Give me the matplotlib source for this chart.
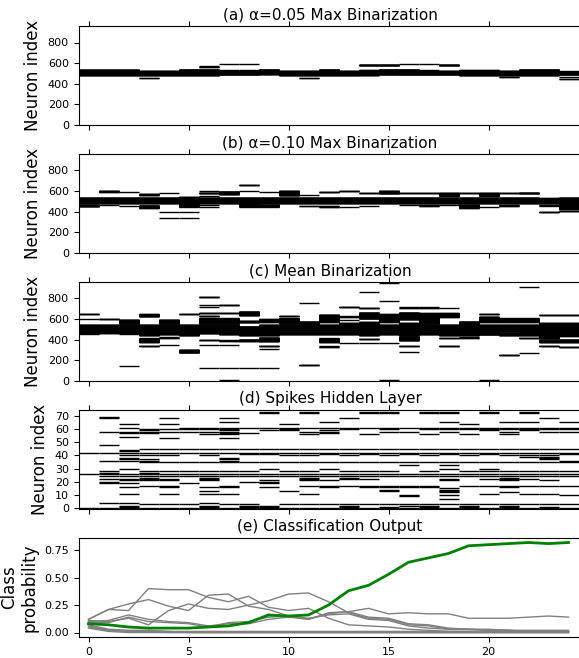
import matplotlib
matplotlib.use("Agg")
import matplotlib.pyplot as plt
import numpy as np

steps = np.arange(25)

# active input neurons per time step, as (first, last) index ranges
max005_ranges = [
    [(485, 535)], [(485, 535)], [(485, 535)],
    [(485, 522), (455, 456)], [(485, 522)],
    [(485, 538)], [(485, 538), (566, 568)],
    [(490, 514), (520, 520), (526, 526), (532, 532), (589, 589)],
    [(490, 514), (520, 520), (526, 526), (532, 532), (589, 589)],
    [(495, 538)], [(485, 522)], [(485, 522), (455, 456)],
    [(485, 538)], [(485, 522)],
    [(486, 496), (500, 520), (524, 530), (580, 586)],
    [(492, 520), (526, 538), (580, 586)],
    [(490, 516), (520, 538), (592, 592)],
    [(490, 516), (522, 522), (530, 530), (592, 592)],
    [(490, 498), (502, 522), (580, 586)],
    [(485, 530)], [(485, 530)], [(485, 522), (465, 466)],
    [(485, 538)], [(485, 538)],
    [(490, 500), (506, 506), (512, 512), (520, 520), (443, 443), (450, 450), (465, 465)],
]

max010_ranges = [
    [(482, 535), (455, 462)],
    [(485, 535), (466, 466), (595, 600)],
    [(485, 535), (456, 456), (590, 590)],
    [(485, 535), (440, 460), (565, 570)],
    [(485, 535), (577, 577), (393, 393), (344, 344)],
    [(450, 541), (393, 393), (344, 344)],
    [(485, 535), (466, 466), (443, 443), (557, 557), (578, 582), (600, 600)],
    [(485, 535), (572, 595)],
    [(485, 512), (520, 535), (450, 472), (600, 600), (655, 657)],
    [(485, 535), (450, 466), (590, 590)],
    [(485, 535), (562, 600)],
    [(485, 535), (459, 460), (567, 567)],
    [(485, 535), (449, 452), (588, 590)],
    [(485, 535), (449, 449), (598, 600)],
    [(485, 535), (459, 459), (584, 586)],
    [(485, 535), (580, 600)],
    [(485, 535), (466, 466), (584, 586)],
    [(485, 505), (515, 515), (525, 535), (459, 462), (584, 586)],
    [(485, 535), (466, 466), (557, 580)],
    [(485, 535), (440, 466), (584, 586)],
    [(485, 535), (443, 443), (557, 580)],
    [(485, 535), (459, 462), (584, 586)],
    [(485, 535), (580, 586)],
    [(485, 530), (460, 462), (400, 402)],
    [(430, 535), (410, 412)],
]

mean_ranges = [
    [(468, 495), (500, 543), (456, 456), (598, 598), (646, 648)],
    [(468, 543), (604, 606)],
    [(468, 500), (505, 543), (456, 456), (559, 591), (145, 145)],
    [(446, 495), (500, 543), (381, 413), (339, 341), (630, 646)],
    [(456, 543), (420, 422), (349, 349), (559, 591)],
    [(446, 543), (278, 300), (646, 648)],
    [(466, 543), (397, 399), (349, 349), (559, 607), (633, 635), (662, 664),
     (714, 714), (737, 737), (811, 813), (129, 129)],
    [(456, 500), (505, 543), (391, 393), (349, 349), (559, 607), (662, 664),
     (737, 739), (129, 129), (10, 10)],
    [(446, 528), (390, 400), (640, 672), (572, 580), (129, 129)],
    [(446, 543), (388, 420), (342, 344), (310, 310), (575, 598), (129, 129)],
    [(456, 543), (559, 607), (633, 635)],
    [(456, 543), (555, 575), (759, 759), (155, 157)],
    [(456, 543), (381, 413), (333, 335), (575, 600), (614, 640)],
    [(456, 500), (505, 560), (372, 372), (591, 591), (624, 626), (714, 716)],
    [(446, 570), (404, 406), (372, 372), (607, 662), (704, 706), (860, 860)],
    [(456, 543), (372, 372), (575, 646), (779, 779), (947, 947), (10, 10)],
    [(446, 560), (397, 430), (342, 344), (284, 284), (601, 662), (711, 713)],
    [(456, 543), (559, 656), (711, 713)],
    [(446, 500), (505, 543), (413, 415), (342, 344), (624, 656), (704, 704)],
    [(446, 575), (420, 422)],
    [(452, 543), (575, 620), (649, 651), (10, 10)],
    [(446, 470), (488, 543), (575, 607), (252, 254)],
    [(446, 543), (413, 415), (275, 275), (575, 607), (914, 914)],
    [(420, 560), (380, 400), (340, 342), (640, 642)],
    [(440, 560), (380, 400), (330, 332), (640, 642)],
]

hidden_always_on = [0, 26, 42]
hidden_spikes = [
    [],
    [69, 68, 58, 48, 36, 28, 27, 24, 22, 20, 19, 4],
    [64, 61, 58, 57, 54, 44, 43, 40, 38, 37, 36, 30, 24, 22, 21, 19, 16, 11, 4, 2, 1],
    [60, 59, 58, 57, 45, 40, 37, 36, 35, 28, 27, 24, 23, 22, 21, 17, 3],
    [68, 64, 60, 58, 53, 45, 40, 35, 28, 24, 22, 21, 17, 16, 11, 3],
    [61, 60, 58, 45, 35, 28, 24, 19, 3],
    [61, 60, 58, 56, 45, 40, 35, 28, 24, 23, 22, 21, 16, 13, 11, 4, 2, 1],
    [68, 65, 61, 60, 59, 58, 57, 56, 53, 45, 38, 37, 36, 35, 28, 24, 17, 16, 11, 3],
    [61, 57, 45, 41, 35, 28, 24, 20, 3, 2, 1],
    [73, 72, 61, 59, 45, 41, 35, 30, 24, 21, 20, 19, 16, 2, 1],
    [64, 61, 60, 59, 45, 40, 35, 28, 24, 13, 3],
    [73, 72, 61, 58, 56, 45, 40, 35, 28, 24, 23, 22, 21, 17, 11, 3],
    [65, 61, 59, 58, 57, 45, 41, 35, 30, 24, 21, 17, 16, 3],
    [68, 61, 60, 45, 40, 35, 28, 24, 23, 22, 17, 3, 2, 1],
    [73, 72, 61, 56, 45, 41, 35, 28, 24, 22, 17, 16, 3],
    [73, 72, 61, 60, 58, 45, 40, 35, 28, 24, 17, 16, 14, 13, 3, 1],
    [61, 58, 45, 41, 35, 33, 24, 17, 16, 10, 9, 3, 2],
    [73, 72, 61, 60, 56, 45, 40, 35, 28, 24, 17, 16, 3, 2, 1],
    [73, 72, 65, 61, 60, 58, 45, 41, 35, 33, 30, 24, 22, 21, 15, 14, 13, 12, 10, 7, 3],
    [64, 61, 60, 56, 45, 40, 35, 28, 24, 17, 3, 2, 1],
    [73, 72, 61, 60, 59, 45, 41, 35, 30, 28, 24, 22, 17, 11, 3],
    [65, 61, 60, 58, 56, 45, 40, 35, 28, 24, 23, 22, 21, 17, 16, 12, 3, 2, 1],
    [73, 72, 65, 61, 60, 59, 45, 40, 39, 35, 28, 24, 22, 17, 11, 3],
    [68, 61, 60, 58, 45, 40, 39, 38, 37, 35, 28, 24, 21, 17, 11, 3, 1],
    [65, 61, 60, 58, 45, 41, 36, 35, 28, 24, 17, 10, 3],
]

target_class = [0.08, 0.07, 0.05, 0.04, 0.04, 0.04, 0.05, 0.06, 0.09, 0.16, 0.15, 0.16,
                0.25, 0.38, 0.43, 0.53, 0.64, 0.68, 0.72, 0.79, 0.80, 0.81, 0.82, 0.81, 0.82]
other_classes = [
    [0.12, 0.21, 0.20, 0.40, 0.39, 0.39, 0.32, 0.28, 0.33, 0.23, 0.20, 0.22, 0.13,
     0.07, 0.06, 0.05, 0.03, 0.02, 0.01, 0.01, 0.01, 0.01, 0.01, 0.01, 0.01],
    [0.12, 0.21, 0.26, 0.30, 0.24, 0.20, 0.34, 0.35, 0.24, 0.21, 0.15, 0.12, 0.18,
     0.19, 0.14, 0.13, 0.08, 0.07, 0.04, 0.03, 0.02, 0.02, 0.01, 0.01, 0.01],
    [0.11, 0.10, 0.13, 0.07, 0.20, 0.26, 0.22, 0.21, 0.25, 0.29, 0.35, 0.36, 0.28,
     0.18, 0.13, 0.12, 0.07, 0.06, 0.03, 0.03, 0.02, 0.02, 0.01, 0.01, 0.01],
    [0.10, 0.11, 0.16, 0.12, 0.10, 0.09, 0.06, 0.08, 0.08, 0.12, 0.14, 0.12, 0.17,
     0.19, 0.22, 0.17, 0.18, 0.17, 0.17, 0.13, 0.13, 0.13, 0.14, 0.15, 0.14],
    [0.09, 0.09, 0.14, 0.10, 0.09, 0.08, 0.05, 0.09, 0.10, 0.14, 0.15, 0.13, 0.16,
     0.17, 0.12, 0.11, 0.06, 0.04, 0.03, 0.03, 0.03, 0.02, 0.02, 0.02, 0.02],
    [0.07, 0.03, 0.02, 0.02, 0.01, 0.01, 0.01, 0.01, 0.01, 0.01, 0.01, 0.01, 0.01,
     0.01, 0.01, 0.01, 0.01, 0.01, 0.01, 0.01, 0.01, 0.01, 0.01, 0.01, 0.01],
    [0.05, 0.02, 0.01, 0.01, 0.00, 0.00, 0.00, 0.00, 0.00, 0.00, 0.00, 0.00, 0.00,
     0.00, 0.00, 0.00, 0.00, 0.00, 0.00, 0.00, 0.00, 0.00, 0.00, 0.00, 0.00],
    [0.06, 0.02, 0.01, 0.01, 0.01, 0.00, 0.00, 0.00, 0.00, 0.00, 0.00, 0.00, 0.00,
     0.00, 0.00, 0.00, 0.00, 0.00, 0.00, 0.00, 0.00, 0.00, 0.00, 0.00, 0.00],
    [0.04, 0.01, 0.00, 0.00, 0.00, 0.00, 0.00, 0.00, 0.00, 0.00, 0.00, 0.00, 0.00,
     0.00, 0.00, 0.00, 0.00, 0.00, 0.00, 0.00, 0.00, 0.00, 0.00, 0.00, 0.00],
]

titles = ["(a) \u03b1=0.05 Max Binarization", "(b) \u03b1=0.10 Max Binarization",
          "(c) Mean Binarization", "(d) Spikes Hidden Layer", "(e) Classification Output"]


def expand(ranges):
    ys = []
    for lo, hi in ranges:
        ys.extend(range(lo, hi + 1))
    return ys


def raster(ax, per_step, extra=()):
    for t, ys in zip(steps, per_step):
        ys = list(ys) + list(extra)
        if ys:
            ax.hlines(ys, t - 0.5, t + 0.5, color="black", linewidth=1.0)


W, H = 579, 658
fig = plt.figure(figsize=(W / 100, H / 100), dpi=100)
left = 78.5 / W
width = 503 / W
tops = [26, 154, 282, 410, 538]
axes = [fig.add_axes([left, 1 - (top + 99) / H, width, 99 / H]) for top in tops]

raster(axes[0], [expand(r) for r in max005_ranges])
raster(axes[1], [expand(r) for r in max010_ranges])
raster(axes[2], [expand(r) for r in mean_ranges])
raster(axes[3], hidden_spikes, hidden_always_on)

for p in other_classes:
    axes[4].plot(steps, p, color="gray", linewidth=1.0)
axes[4].plot(steps, target_class, color="green", linewidth=2.0)

for i, ax in enumerate(axes):
    ax.set_xlim(-0.5, 24.65)
    ax.set_xticks([0, 5, 10, 15, 20])
    ax.set_title(titles[i], fontsize=11, pad=5)
    ax.tick_params(labelsize=8)
    if i < 4:
        ax.tick_params(top=True, labelbottom=False)
        ax.set_ylabel("Neuron index", fontsize=12)
    if i < 3:
        ax.set_ylim(0, 960)
        ax.set_yticks([0, 200, 400, 600, 800])

axes[3].set_ylim(-0.6, 74.3)
axes[3].set_yticks(range(0, 71, 10))
axes[4].set_yticks([0.0, 0.25, 0.5, 0.75])
axes[4].set_ylabel("Class\nprobability", fontsize=12)

fig.savefig("out.png", dpi=100)
